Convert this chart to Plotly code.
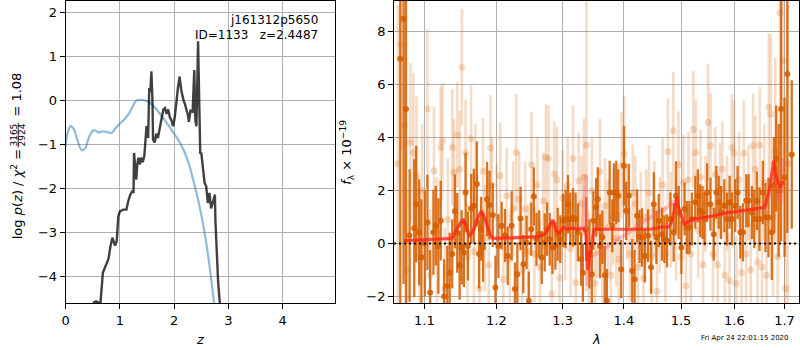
import plotly.graph_objects as go

# ---------------- left panel: p(z) ----------------
z_prior = [0.0, 0.04, 0.09, 0.15, 0.22, 0.30, 0.36, 0.44, 0.52, 0.60, 0.68, 0.76, 0.84, 0.92,
           1.00, 1.08, 1.16, 1.24, 1.30, 1.40, 1.48, 1.55, 1.64, 1.72, 1.80, 1.90, 1.98, 2.08,
           2.17, 2.26, 2.35, 2.42, 2.50, 2.58, 2.65, 2.72, 2.75]
logp_prior = [-1.04, -0.72, -0.58, -0.65, -0.92, -1.13, -1.08, -0.80, -0.67, -0.72, -0.70, -0.71,
              -0.74, -0.63, -0.52, -0.43, -0.30, -0.12, 0.0, 0.02, 0.0, -0.05, -0.15, -0.27, -0.40,
              -0.57, -0.72, -0.90, -1.11, -1.40, -1.80, -2.15, -2.60, -3.15, -3.75, -4.45, -4.75]

z_fit = [0.50, 0.52, 0.56, 0.60, 0.64, 0.685, 0.72, 0.76, 0.79, 0.82, 0.86, 0.91, 0.94, 0.97, 1.00,
         1.06, 1.12, 1.15, 1.19, 1.23, 1.25, 1.26, 1.28, 1.30, 1.32, 1.34, 1.37, 1.39, 1.42, 1.45,
         1.49, 1.52, 1.54, 1.56, 1.58, 1.60, 1.61, 1.64, 1.67, 1.70, 1.74, 1.77, 1.80, 1.83, 1.86,
         1.89, 1.92, 1.95, 1.98, 2.01, 2.04, 2.07, 2.10, 2.13, 2.17, 2.20, 2.23, 2.25, 2.27, 2.30,
         2.34, 2.37, 2.39, 2.41, 2.44, 2.46, 2.48, 2.50, 2.53, 2.56, 2.59, 2.62, 2.65, 2.68, 2.71,
         2.75, 2.76, 2.78, 2.81, 2.85]
logp_fit = [-4.80, -4.59, -4.57, -4.59, -4.62, -3.92, -3.80, -3.69, -3.60, -3.35, -3.12, -3.30, -3.20,
            -2.63, -2.52, -2.48, -2.48, -2.30, -2.14, -2.05, -2.10, -1.19, -1.57, -1.80, -1.45, -1.30,
            -1.45, -1.30, -1.40, -1.25, -0.58, -0.85, 0.29, 0.20, 0.67, -0.03, -0.89, -0.95, -0.75,
            -0.85, -0.59, -0.40, -0.20, -0.17, -0.30, -0.20, -0.38, -0.45, -0.58, -0.38, 0.02, 0.30,
            0.55, 0.24, 0.02, -0.08, -0.23, -0.30, -0.48, -0.23, -0.25, 0.70, -0.45, -0.58, 1.35,
            -0.58, -1.19, -1.20, -1.57, -1.87, -1.95, -2.33, -2.10, -2.45, -2.33, -2.14, -2.74, -3.39,
            -4.14, -4.75]

# ---------------- right panel: spectrum ----------------
dark_wave = [1.0683, 1.0726, 1.0757, 1.0805, 1.0865, 1.0891, 1.0930, 1.0960, 1.1005, 1.1040, 1.1076,
             1.1120, 1.1152, 1.1187, 1.1219, 1.1264, 1.1308, 1.1341, 1.1376, 1.1413, 1.1445, 1.1478,
             1.1506, 1.1538, 1.1561, 1.1593, 1.1639, 1.1677, 1.1719, 1.1751, 1.1780, 1.1808, 1.1865,
             1.1900, 1.1947, 1.1986,
             1.2029, 1.2077, 1.2125, 1.2165, 1.2223, 1.2272, 1.2308, 1.2356, 1.2397, 1.2445, 1.2480,
             1.2516, 1.2555, 1.2596, 1.2637, 1.2676, 1.2722, 1.2759, 1.2799, 1.2841, 1.2887, 1.2923,
             1.2964, 1.3006, 1.3048, 1.3085, 1.3121, 1.3164, 1.3205, 1.3243, 1.3295, 1.3322, 1.3375,
             1.3428, 1.3467, 1.3493, 1.3537, 1.3564, 1.3602,
             1.3640, 1.3680, 1.3715, 1.3761, 1.3805, 1.3833, 1.3871, 1.3905, 1.3955, 1.4000, 1.4039,
             1.4084, 1.4141, 1.4182, 1.4226, 1.4267, 1.4311, 1.4358, 1.4415, 1.4467, 1.4515, 1.4561,
             1.4602, 1.4660, 1.4702, 1.4749, 1.4809, 1.4868, 1.4910, 1.4958, 1.5007, 1.5066, 1.5108,
             1.5152, 1.5199, 1.5262, 1.5309, 1.5353, 1.5396,
             1.5433, 1.5482, 1.5544, 1.5606, 1.5656, 1.5700, 1.5745, 1.5807, 1.5859, 1.5908, 1.5954,
             1.6017, 1.6062, 1.6115, 1.6167, 1.6232, 1.6276, 1.6343, 1.6389, 1.6441, 1.6493, 1.6560,
             1.6613, 1.6673, 1.6740, 1.6790, 1.6830, 1.6880, 1.6929, 1.7000, 1.7058, 1.7149]
dark_flux = [6.96, 8.47, 5.07, 0.30, 0.57, 1.48, 0.42, -0.53, 0.00, 0.79, -1.85,
             0.42, 0.67, -0.10, 0.86, -2.00, -1.60, -1.10, -0.40, 1.21, 0.40, -0.82,
             -0.15, -0.34, 1.92, -0.10, 1.32, 1.42, 2.24, -0.40, 0.55, -0.15, 1.67,
             1.45, 1.07, -1.66,
             -0.10, 0.67, 0.30, -0.47, 0.67, -1.72, -1.16, 0.94, -0.78, 0.04, -2.16,
             0.54, 1.77, 0.16, 0.35, -0.53, 0.04, 0.54, 0.16, -0.15, -0.09, 0.35,
             0.16, 0.86, 0.92, 1.48, 0.92, 0.98, 0.92, 0.42, -0.59, -1.10, 0.54,
             -0.40, -1.16, 0.86, 1.36, 1.67, -0.10,
             0.23, -1.20, -2.16, 1.92, 0.67, 1.92, 1.92, 1.80, -0.97, 2.93, 1.23,
             1.80, -1.03, -1.35, 1.04, 0.26, 0.23, -0.47, 0.29, -0.90, 1.48, 0.23,
             0.86, 0.35, 0.16, 0.10, 0.92, 0.42, 1.80, 1.17, -0.15, 1.30, 0.60,
             0.60, 0.92, 1.55, 1.80, 1.23, 1.17,
             0.92, 1.92, 1.48, 0.35, 1.92, 1.55, 1.17, 1.42, 0.92, 1.55, 0.92,
             1.42, 1.92, 0.42, 0.42, 1.61, 1.61, 1.17, 0.92, 1.61, 0.92, 1.92,
             0.98, 0.98, 0.42, 2.20, 3.20, 2.00, 5.07, 2.50, 6.39, 3.35]
dark_err = [10.0, 10.0, 10.0, 2.5, 2.6, 2.2, 2.0, 2.2, 2.0, 1.8, 1.6,
            1.6, 1.5, 1.8, 1.5, 1.4, 1.5, 1.5, 1.3, 1.4, 1.5, 1.3,
            1.4, 1.3, 1.5, 1.3, 1.3, 1.4, 1.6, 1.3, 1.2, 1.3, 1.4,
            1.3, 1.2, 1.2,
            1.2, 0.9, 1.0, 1.1, 1.3, 1.0, 1.2, 1.2, 1.1, 1.0, 1.1,
            1.0, 1.1, 1.0, 0.9, 1.0, 1.1, 1.0, 1.0, 1.0, 0.9, 1.0,
            0.9, 1.0, 1.1, 1.1, 1.0, 1.1, 1.0, 1.1, 1.0, 1.1, 1.2,
            1.3, 1.2, 1.1, 1.1, 1.2, 1.2,
            1.0, 1.1, 1.2, 1.2, 1.0, 1.1, 1.2, 1.0, 1.1, 1.5, 1.1,
            1.2, 1.2, 1.1, 1.0, 1.0, 1.1, 1.0, 1.0, 1.0, 1.2, 1.0,
            1.0, 1.0, 0.9, 1.0, 1.0, 1.1, 1.3, 1.0, 1.0, 1.0, 1.0,
            1.0, 1.0, 1.0, 1.0, 1.0, 1.0,
            1.0, 1.1, 1.0, 1.0, 1.0, 1.0, 1.0, 1.0, 1.0, 1.0, 1.0,
            1.0, 1.0, 1.0, 1.1, 1.0, 1.0, 1.0, 1.1, 1.1, 1.2, 1.2,
            1.3, 1.5, 1.8, 1.8, 2.0, 2.5, 5.0, 3.0, 6.0, 2.8]

light_wave = [1.0652, 1.0693, 1.0735, 1.0775, 1.0815, 1.0854, 1.0895, 1.0935, 1.0970, 1.1040, 1.1076,
              1.1128, 1.1168, 1.1219, 1.1242, 1.1275, 1.1316, 1.1376, 1.1400, 1.1445, 1.1480, 1.1510,
              1.1561, 1.1587, 1.1639, 1.1677, 1.1700, 1.1757, 1.1808, 1.1835, 1.1890, 1.1915, 1.1935,
              1.2005, 1.2055, 1.2100, 1.2150, 1.2195, 1.2245, 1.2290, 1.2335, 1.2380, 1.2425, 1.2470,
              1.2520, 1.2565, 1.2610, 1.2650, 1.2700, 1.2740, 1.2780, 1.2830, 1.2870, 1.2910, 1.2950,
              1.3000, 1.3040, 1.3080, 1.3125, 1.3165, 1.3210, 1.3255, 1.3300, 1.3340, 1.3380, 1.3420,
              1.3470, 1.3520, 1.3560, 1.3600,
              1.3640, 1.3685, 1.3730, 1.3780, 1.3820, 1.3870, 1.3915, 1.3960, 1.4005, 1.4050, 1.4100,
              1.4150, 1.4195, 1.4240, 1.4290, 1.4335, 1.4380, 1.4430, 1.4480, 1.4525, 1.4570, 1.4620,
              1.4670, 1.4720, 1.4765, 1.4815, 1.4860, 1.4910, 1.4955, 1.5000, 1.5045, 1.5090, 1.5135,
              1.5180, 1.5225, 1.5270, 1.5315, 1.5360, 1.5405,
              1.5450, 1.5500, 1.5545, 1.5590, 1.5635, 1.5680, 1.5725, 1.5770, 1.5815, 1.5860, 1.5905,
              1.5950, 1.5995, 1.6040, 1.6090, 1.6140, 1.6185, 1.6230, 1.6275, 1.6320, 1.6365, 1.6410,
              1.6455, 1.6500, 1.6545, 1.6590, 1.6635, 1.6680, 1.6720, 1.6765, 1.6810, 1.6860, 1.6907,
              1.6970, 1.7020, 1.7070]
light_flux = [3.0, 7.5, 4.44, -1.0, 3.81, 3.43, 2.55, -0.5, 2.0, 5.07, -1.2,
              2.74, 0.1, 3.62, 3.85, -1.7, 0.9, 3.62, 2.68, 4.09, 2.80, 6.64,
              3.43, -0.5, 3.96, -0.3, 2.5, -1.7, 2.72, 0.2, -0.8, 3.6, 2.18,
              1.0, 2.55, -1.35, 1.8, -0.6, 1.3, 3.43, 1.67, -1.0, 1.3, -0.3,
              2.97, -0.4, 2.2, -0.9, 1.6, 3.25, 3.2, -1.9, 2.62, 2.4, -1.3,
              1.7, 0.4, 2.2, -0.2, 3.2, -1.47, 2.36, 1.5, 2.5, 3.7, -0.8,
              2.0, -1.5, 0.5, 2.7,
              -0.5, 1.42, 0.6, -1.2, 1.0, 0.2, -0.6, 2.95, 3.37, 1.2, -0.4,
              1.92, 1.5, -0.9, 0.9, -1.3, 1.0, 1.9, -0.5, 1.3, -1.8, 0.7,
              2.2, -0.4, 3.46, 0.9, 4.25, 0.4, 2.97, -0.5, 2.3, -1.6, 2.4,
              -0.4, 4.3, 3.43, 0.5, 2.5, -0.8,
              1.5, 4.57, 3.68, -0.4, 2.6, -0.8, 2.0, 2.8, -1.2, 1.5, -1.4,
              3.62, 3.4, -1.5, 2.4, -1.1, 3.4, -0.4, 1.9, -1.0, 3.68, 2.8,
              -0.7, 3.7, -0.9, 2.3, -1.2, 5.13, 4.88, 1.0, 3.5, -0.5, 8.7,
              6.9, -1.7, 3.0]
light_err = [6.0, 4.0, 4.0, 3.0, 3.0, 3.0, 3.0, 2.5, 2.5, 3.0, 2.5,
             2.4, 2.4, 2.3, 2.2, 2.3, 2.3, 2.2, 2.0, 2.0, 2.2, 2.2,
             2.0, 2.0, 2.0, 2.0, 2.0, 2.0, 2.0, 2.0, 2.0, 2.0, 1.8,
             2.0, 2.0, 1.8, 1.8, 1.8, 1.8, 2.2, 1.8, 1.8, 1.8, 1.8,
             2.0, 1.8, 1.8, 1.8, 1.8, 2.0, 2.0, 1.8, 2.0, 2.0, 1.8,
             1.8, 1.8, 1.8, 1.8, 2.0, 1.8, 1.8, 1.8, 2.2, 5.5, 2.0,
             2.0, 1.8, 1.8, 2.0,
             1.8, 1.8, 1.8, 1.8, 1.8, 1.8, 1.8, 2.0, 2.2, 1.8, 1.8,
             1.8, 1.8, 1.8, 1.8, 1.8, 1.8, 1.8, 1.8, 1.8, 1.8, 1.8,
             1.8, 1.8, 2.0, 1.8, 2.2, 1.8, 2.0, 1.8, 1.8, 1.8, 1.8,
             1.8, 2.2, 2.0, 1.8, 1.8, 1.8,
             1.8, 2.2, 2.0, 1.8, 1.8, 1.8, 1.8, 1.8, 1.8, 1.8, 1.8,
             2.0, 2.0, 1.8, 1.8, 1.8, 2.0, 1.8, 1.8, 1.8, 2.0, 2.0,
             2.0, 2.2, 2.2, 2.2, 2.4, 2.8, 3.0, 3.0, 3.5, 4.0, 5.0,
             5.0, 4.0, 6.0]

model_wave = [1.0732, 1.1371, 1.1437, 1.1513, 1.1550, 1.1614, 1.1660, 1.1726, 1.1784, 1.1838, 1.1905,
              1.1950, 1.2620, 1.2720, 1.2800, 1.2846, 1.2900, 1.2955, 1.3010, 1.3060, 1.3160, 1.3240,
              1.3320, 1.3370, 1.3400, 1.3440, 1.3500, 1.4460, 1.4660, 1.4780, 1.4830, 1.4928, 1.4965,
              1.5060, 1.5225, 1.5600, 1.5888, 1.6240, 1.6600, 1.6707, 1.6775, 1.6845, 1.6914, 1.6980]
model_flux = [0.10, 0.19, 0.54, 0.86, 0.80, 0.29, 0.42, 0.92, 1.23, 0.92, 0.35,
              0.19, 0.25, 0.35, 0.67, 0.89, 0.48, 0.39, 0.60, 0.54, 0.57, 0.54,
              0.57, 0.40, -1.00, -0.30, 0.54, 0.54, 0.62, 0.62, 0.80, 1.74, 1.30,
              0.73, 0.92, 1.04, 1.17, 1.26, 1.36, 2.18, 3.12, 2.43, 2.11, 2.36]

model2_wave = [1.0732, 1.1371, 1.1437, 1.1513, 1.1560, 1.1614, 1.1660, 1.1726, 1.1784, 1.1838, 1.1905,
               1.1950, 1.2620, 1.2720, 1.2846, 1.2900, 1.3010, 1.3320, 1.3370, 1.3400, 1.3450, 1.3600,
               1.4000, 1.4400, 1.4780, 1.4880, 1.4965, 1.5060, 1.5600, 1.6240, 1.6600, 1.6707, 1.6775,
               1.6845, 1.6914, 1.6980]
model2_flux = [0.10, 0.19, 0.54, 0.86, 0.75, 0.29, 0.42, 0.92, 1.23, 0.92, 0.35,
               0.19, 0.25, 0.35, 0.89, 0.48, 0.60, 0.57, 2.60, -1.60, -0.50, -0.30,
               0.30, 0.90, 1.40, 1.60, 1.20, 0.73, 1.04, 1.26, 1.36, 2.00, 2.80,
               2.30, 1.50, 3.20]

left_xticks = [0, 1, 2, 3, 4]
left_yticks = [-4, -3, -2, -1, 0, 1, 2]
right_xticks = [1.1, 1.2, 1.3, 1.4, 1.5, 1.6, 1.7]
right_yticks = [-2, 0, 2, 4, 6, 8]

FONT = "DejaVu Sans"
ORANGE_D = "rgba(213,94,0,0.88)"
ORANGE_L = "rgba(213,94,0,0.22)"

fig = go.Figure()

fig.add_trace(go.Scatter(x=z_prior, y=logp_prior, mode="lines", xaxis="x", yaxis="y",
                         line=dict(color="rgba(31,119,180,0.5)", width=2.2, shape="spline"),
                         showlegend=False))
fig.add_trace(go.Scatter(x=z_fit, y=logp_fit, mode="lines", xaxis="x", yaxis="y",
                         line=dict(color="rgba(0,0,0,0.75)", width=2.4),
                         showlegend=False))

fig.add_trace(go.Scatter(x=light_wave, y=light_flux, mode="markers", xaxis="x2", yaxis="y2",
                         marker=dict(color=ORANGE_L, size=7, line=dict(width=0)),
                         error_y=dict(type="data", array=light_err, color=ORANGE_L,
                                      thickness=2.6, width=0),
                         showlegend=False))
fig.add_trace(go.Scatter(x=dark_wave, y=dark_flux, mode="markers", xaxis="x2", yaxis="y2",
                         marker=dict(color=ORANGE_D, size=6, line=dict(width=0)),
                         error_y=dict(type="data", array=dark_err, color=ORANGE_D,
                                      thickness=2.3, width=0),
                         showlegend=False))
fig.add_trace(go.Scatter(x=model2_wave, y=model2_flux, mode="lines", xaxis="x2", yaxis="y2",
                         line=dict(color="rgba(255,80,90,0.35)", width=4),
                         showlegend=False))
fig.add_trace(go.Scatter(x=model_wave, y=model_flux, mode="lines", xaxis="x2", yaxis="y2",
                         line=dict(color="rgba(255,30,10,0.7)", width=3),
                         showlegend=False))

fig.add_shape(type="line", xref="x2 domain", yref="y2", x0=0, x1=1, y0=0, y1=0,
              line=dict(color="black", width=2, dash="2px,3px"))

W, H = 800, 350


def px(x):
    return x / W


def py(y):
    return 1 - y / H


# fraction bar of the stacked 3165/2924 in the left y label (rotated text)
fig.add_shape(type="line", xref="paper", yref="paper", x0=px(14.3), x1=px(14.3),
              y0=py(123), y1=py(148), line=dict(color="black", width=0.8))

ydom = [1 - 304 / 350, 1 - 1 / 350]
axis_common = dict(showline=True, mirror=True, linecolor="black", linewidth=1,
                   ticks="outside", ticklen=5, tickwidth=1, tickcolor="black",
                   showgrid=True, gridcolor="#b0b0b0", gridwidth=1, zeroline=False,
                   tickfont=dict(family=FONT, size=13, color="black"))

fig.update_layout(
    width=W, height=H,
    margin=dict(l=0, r=0, t=0, b=0),
    paper_bgcolor="white", plot_bgcolor="white",
    font=dict(family=FONT, color="black"),
    xaxis=dict(domain=[62 / 800, 333 / 800], range=[0, 4.97], tickvals=left_xticks,
               anchor="y", **axis_common),
    yaxis=dict(domain=ydom, range=[-4.61, 2.27], tickvals=left_yticks,
               anchor="x", **axis_common),
    xaxis2=dict(domain=[392 / 800, 799 / 800], type="log", range=[0.02543, 0.23805],
                tickvals=right_xticks, ticktext=[f"{v:.1f}" for v in right_xticks],
                anchor="y2", **axis_common),
    yaxis2=dict(domain=ydom, range=[-2.25, 9.14], tickvals=right_yticks,
                anchor="x2", **axis_common),
)

ann = [
    dict(text="j161312p5650", x=px(318), y=py(20), xanchor="right", yanchor="middle",
         font=dict(size=12, family=FONT)),
    dict(text="ID=1133\u00a0\u00a0\u00a0z=2.4487", x=px(318), y=py(35), xanchor="right",
         yanchor="middle", font=dict(size=12, family=FONT)),
    # left y label, in pieces so that the fraction can be stacked
    dict(text="log <i>p</i>(<i>z</i>) / <i>χ</i><sup>2</sup> =", x=px(13), y=py(242),
         textangle=-90, xanchor="center", yanchor="bottom", font=dict(size=13, family=FONT)),
    dict(text="3165", x=px(10.5), y=py(135.5), textangle=-90, xanchor="center", yanchor="middle",
         font=dict(size=9, family=FONT)),
    dict(text="2924", x=px(18.5), y=py(135.5), textangle=-90, xanchor="center", yanchor="middle",
         font=dict(size=9, family=FONT)),
    dict(text="= 1.08", x=px(13), y=py(119), textangle=-90, xanchor="center", yanchor="bottom",
         font=dict(size=13, family=FONT)),
    dict(text="<i>f</i><sub>λ</sub> × 10<sup>−19</sup>", x=px(344), y=py(153),
         textangle=-90, xanchor="center", yanchor="middle", font=dict(size=13, family=FONT)),
    dict(text="<i>z</i>", x=px(197), y=py(340), xanchor="center", yanchor="middle",
         font=dict(size=13, family=FONT)),
    dict(text="<i>λ</i>", x=px(595), y=py(340), xanchor="center", yanchor="middle",
         font=dict(size=13, family=FONT)),
    dict(text="Fri Apr 24 22:01:15 2020", x=px(745), y=py(339), xanchor="center",
         yanchor="middle", font=dict(size=7, family=FONT)),
]
for a in ann:
    a.update(xref="paper", yref="paper", showarrow=False)
fig.update_layout(annotations=ann)

fig.write_html("out.html", config={"displayModeBar": False},
               post_script="document.body.style.margin='0px';document.body.style.overflow='hidden';")
